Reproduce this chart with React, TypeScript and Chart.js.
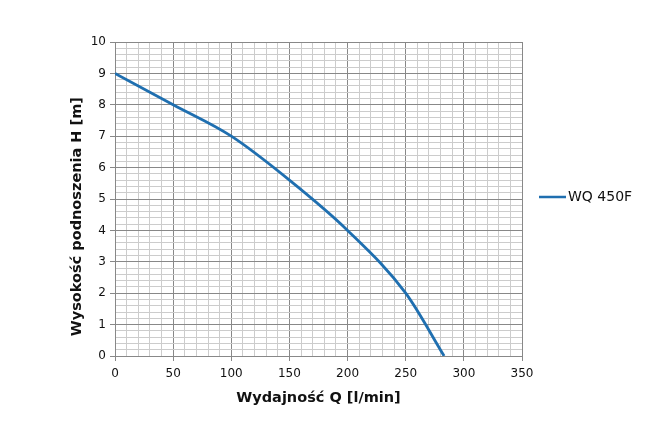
import React, { useEffect, useRef } from "react";
import { Chart, registerables } from "chart.js";

Chart.register(...registerables);

const seriesLabel = "WQ 450F";
const flowQ = [0, 50, 100, 150, 200, 250, 283];
const headH = [9, 8, 7, 5.6, 4.0, 2.0, 0];
const xTitle = "Wydajność Q [l/min]";
const yTitle = "Wysokość podnoszenia H [m]";

const isMajorX = (v: number) => Math.abs(v / 50 - Math.round(v / 50)) < 1e-6;
const isMajorY = (v: number) => Math.abs(v - Math.round(v)) < 1e-6;

const legendPlugin = {
  id: "rightLegend",
  afterDraw(chart: any) {
    const ctx = chart.ctx;
    const ds = chart.data.datasets[0];
    ctx.save();
    ctx.strokeStyle = ds.borderColor;
    ctx.lineWidth = 2.5;
    ctx.beginPath();
    ctx.moveTo(539, 197);
    ctx.lineTo(566, 197);
    ctx.stroke();
    ctx.fillStyle = "#111";
    ctx.font = "14px 'DejaVu Sans'";
    ctx.textBaseline = "middle";
    ctx.fillText(ds.label, 568, 197);
    ctx.restore();
  },
};

export default function App() {
  const ref = useRef<HTMLCanvasElement | null>(null);
  useEffect(() => {
    if (!ref.current) return;
    const chart = new Chart(ref.current, {
      type: "line",
      data: {
        datasets: [
          {
            label: seriesLabel,
            data: flowQ.map((q, i) => ({ x: q, y: headH[i] })),
            borderColor: "#1f6fb0",
            borderWidth: 2.8,
            pointRadius: 0,
            cubicInterpolationMode: "monotone",
            fill: false,
          },
        ],
      },
      options: {
        animation: false,
        responsive: false,
        layout: { padding: { left: 0, top: 42, right: 147, bottom: 0 } },
        plugins: { legend: { display: false }, tooltip: { enabled: false } },
        scales: {
          x: {
            type: "linear",
            min: 0,
            max: 350,
            afterFit: (s: any) => {
              s.height = 82;
            },
            ticks: {
              stepSize: 10,
              autoSkip: false,
              maxRotation: 0,
              padding: 6,
              color: "#111",
              font: { family: "'DejaVu Sans'", size: 12 },
              callback: (v: any) => (isMajorX(Number(v)) ? String(v) : ""),
            },
            grid: {
              color: (c: any) => (isMajorX(c.tick.value) ? "#888888" : "#cccccc"),
              tickColor: (c: any) => (isMajorX(c.tick.value) ? "#888888" : "rgba(0,0,0,0)"),
              tickLength: 5,
              lineWidth: 1,
            },
            border: { color: "#888888" },
            title: {
              display: true,
              text: xTitle,
              color: "#111",
              font: { family: "'DejaVu Sans'", size: 14.5, weight: "bold" },
              padding: { top: 0, bottom: 31 },
            },
          },
          y: {
            type: "linear",
            min: 0,
            max: 10,
            afterFit: (s: any) => {
              s.width = 115;
            },
            ticks: {
              stepSize: 0.2,
              autoSkip: false,
              padding: 4,
              color: "#111",
              font: { family: "'DejaVu Sans'", size: 12 },
              callback: (v: any) => (isMajorY(Number(v)) ? String(Math.round(Number(v))) : ""),
            },
            grid: {
              color: (c: any) => (isMajorY(c.tick.value) ? "#888888" : "#cccccc"),
              tickColor: (c: any) => (isMajorY(c.tick.value) ? "#888888" : "rgba(0,0,0,0)"),
              tickLength: 5,
              lineWidth: 1,
            },
            border: { color: "#888888" },
            title: {
              display: true,
              text: yTitle + "       ",
              color: "#111",
              font: { family: "'DejaVu Sans'", size: 14.5, weight: "bold" },
              padding: { top: 69, bottom: 0 },
            },
          },
        },
      },
      plugins: [legendPlugin],
    } as any);
    return () => chart.destroy();
  }, []);
  return (
    <div style={{ position: "fixed", left: 0, top: 0, width: 669, height: 438, background: "#fff" }}>
      <canvas ref={ref} width={669} height={438} style={{ width: 669, height: 438, display: "block" }} />
    </div>
  );
}
